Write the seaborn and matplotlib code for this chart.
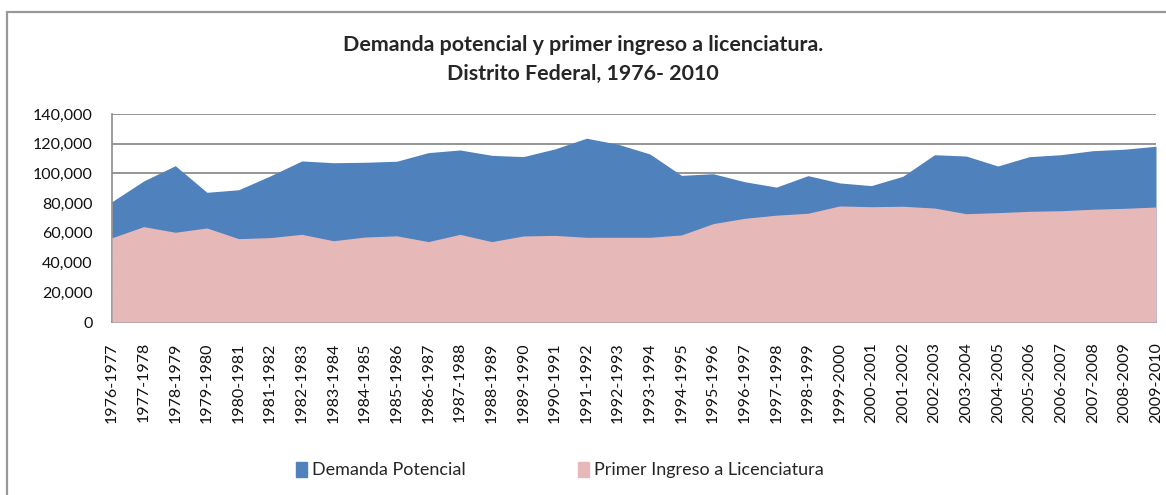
import matplotlib
matplotlib.use("Agg")
import matplotlib.pyplot as plt
import matplotlib.patches as mpatches
import seaborn as sns
import numpy as np
import pandas as pd

# Periods (school years)
periodos = [f"{y}-{y + 1}" for y in range(1976, 2010)]

# Demanda potencial (upper area)
demanda = [81000, 94900, 105200, 87300, 89000, 98300, 108400, 107200, 107500, 108200,
           114000, 115800, 112200, 111300, 116500, 123700, 119600, 113100, 98700, 99800,
           94400, 90800, 98500, 93600, 91800, 98100, 112600, 111700, 105000, 111300,
           112600, 115300, 116300, 118300]

# Primer ingreso a licenciatura (front area)
ingreso = [56700, 64200, 60400, 63300, 56100, 56800, 59000, 54700, 57200, 58000,
           54100, 59000, 54100, 57900, 58300, 57000, 57000, 57000, 58600, 66200,
           69800, 71900, 73200, 78100, 77600, 77900, 76700, 72900, 73600, 74500,
           74900, 75900, 76500, 77400]

df = pd.DataFrame({"periodo": periodos, "demanda": demanda, "ingreso": ingreso})

BLUE = "#4F81BD"
PINK = "#E6B9B8"
GRID = "#8C8C8C"

sns.set_theme(style="white")
plt.rcParams["font.family"] = ["Lato", "DejaVu Sans"]

fig = plt.figure(figsize=(11.66, 4.95), dpi=100)
ax = fig.add_axes([112 / 1166, 1 - 322 / 495, (1156 - 112) / 1166, (322 - 114) / 495])

x = np.arange(len(df))
ax.fill_between(x, df["demanda"], color=BLUE, lw=0, zorder=2)
ax.fill_between(x, df["ingreso"], color=PINK, lw=0, zorder=3)

ax.set_xlim(0, len(df) - 1)
ax.set_ylim(0, 140000)
ax.set_yticks(range(0, 140001, 20000))
ax.set_yticklabels([f"{v:,}" for v in range(0, 140001, 20000)], fontsize=11.5, color="#111111")
ax.set_xticks(x)
ax.set_xticklabels(df["periodo"], rotation=90, fontsize=11.5, color="#111111")
ax.yaxis.grid(True, color=GRID, lw=1.3, zorder=1)
ax.set_axisbelow(True)

for s in ["top", "right"]:
    ax.spines[s].set_visible(False)
for s in ["left", "bottom"]:
    ax.spines[s].set_color(GRID)
    ax.spines[s].set_linewidth(1.2)
ax.tick_params(axis="y", direction="out", length=5, width=1.2, color=GRID, pad=9)
ax.tick_params(axis="x", direction="out", length=3.5, width=1.2, color=GRID, pad=11)

fig.text(0.5, 1 - 45 / 495, "Demanda potencial y primer ingreso a licenciatura.",
         ha="center", va="center", fontsize=15.4, fontweight="bold")
fig.text(0.5, 1 - 74 / 495, "Distrito Federal, 1976- 2010",
         ha="center", va="center", fontsize=15.4, fontweight="bold")

handles = [mpatches.Patch(color=BLUE, label="Demanda Potencial"),
           mpatches.Patch(color=PINK, label="Primer Ingreso a Licenciatura")]
fig.legend(handles=handles, loc="center", bbox_to_anchor=(560 / 1166, 1 - 470 / 495), ncol=2,
           frameon=False, fontsize=13, handlelength=0.6, handleheight=0.9,
           handletextpad=0.3, columnspacing=6.2)

# outer chart border
fig.patches.append(mpatches.Rectangle((7 / 1166, -0.01), 1.2, 1 - 12 / 495 + 0.01,
                                      transform=fig.transFigure, fill=False,
                                      edgecolor="#999999", lw=1.6))

fig.savefig("out.png", dpi=100)
